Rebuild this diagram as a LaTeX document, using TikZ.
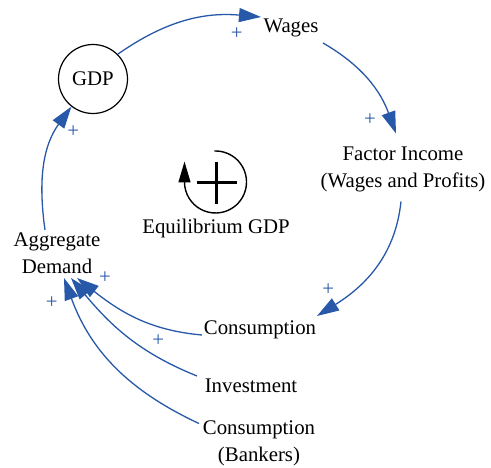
\documentclass[tikz,border=0pt]{standalone}
\usepackage{fontspec}
\setmainfont{Liberation Serif}
\usetikzlibrary{arrows.meta,calc}
\definecolor{linkblue}{RGB}{40,88,168}
\begin{document}
\begin{tikzpicture}[x=1pt,y=1pt,
  lbl/.style={font=\fontsize{20.8}{27}\selectfont, inner sep=0pt, align=center, text=black},
  link/.style={linkblue, line width=1.3pt, -{Triangle[length=22pt,width=14pt]}},
  pol/.style={text=linkblue, font=\fontsize{20.8}{24}\selectfont, inner sep=0pt}]
\useasboundingbox (0,0) rectangle (491,-468);
% variables
\node[lbl, draw, circle, minimum size=69pt, line width=1.2pt] (gdp) at (93,-79) {GDP};
\node[lbl] (wages) at (291,-28) {Wages};
\node[lbl] (fi) at (403,-169.5) {Factor Income\\(Wages and Profits)};
\node[lbl] (cons) at (260,-330) {Consumption};
\node[lbl] (inv) at (251,-386) {Investment};
\node[lbl] (consb) at (259,-443.5) {Consumption\\(Bankers)};
\node[lbl] (ad) at (57,-253) {Aggregate\\Demand};
% loop marker
\coordinate (loopc) at (215.5,-182);
\node[lbl] (eqlabel) at (216,-228) {Equilibrium GDP};
\draw[line width=1.4pt, -{Triangle[length=21pt,width=12pt]}]
  ($(loopc)+(92:31)$) arc[start angle=92, end angle=-180, radius=31] -- ++(0,20.5);
\draw[line width=3pt] ($(loopc)+(-19,-0.7)$) -- ($(loopc)+(21.8,-0.7)$);
\draw[line width=3pt] ($(loopc)+(1.2,19.7)$) -- ($(loopc)+(1.2,-22)$);
% links
\draw[link] (gdp.45) to[out=35,in=175] ($(wages)+(-30,11)$);
\draw[link] ($(wages)+(32,-15)$) to[out=-30,in=110] ($(fi)+(-7,36)$);
\draw[link] ($(fi)+(-2,-32)$) to[out=-96,in=32] ($(cons)+(57,14)$);
\draw[link] ($(cons)+(-58,-5)$) to[out=175,in=-38] ($(ad)+(20,-25)$);
\draw[link] ($(inv)+(-54,10)$) to[out=158,in=-50] ($(ad)+(14,-25)$);
\draw[link] ($(consb)+(-60,20)$) to[out=155,in=-70] ($(ad)+(7,-25)$);
\draw[link] ($(ad)+(-12,23)$) to[out=98,in=-126] (gdp.232);
% polarities
\node[pol] (p1) at (236.7,-33.3) {+};
\node[pol] (p2) at (370,-119.3) {+};
\node[pol] (p3) at (73.3,-131.5) {+};
\node[pol] (p4) at (328.3,-290) {+};
\node[pol] (p5) at (105,-277.3) {+};
\node[pol] (p6) at (51.7,-302.7) {+};
\node[pol] (p7) at (158.3,-340.7) {+};
\end{tikzpicture}
\end{document}
